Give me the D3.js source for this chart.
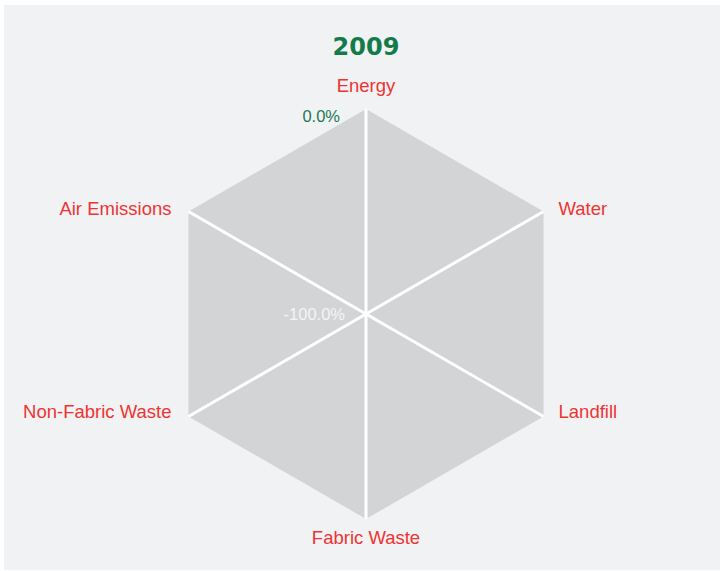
<!DOCTYPE html>
<html>
<head>
<meta charset="utf-8">
<script src="https://cdn.jsdelivr.net/npm/d3@7"></script>
<style>
  html, body { margin: 0; padding: 0; background: #fff; }
  svg { display: block; }
</style>
</head>
<body>
<div id="root"></div>
<script>
// Data
const title = '2009';
const categories = ['Energy', 'Water', 'Landfill', 'Fabric Waste', 'Non-Fabric Waste', 'Air Emissions'];
const values2009 = [0, 0, 0, 0, 0, 0];
const scaleTicks = [-100, 0];

// Chart
const width = 721;
const height = 571;
const cx = 366;
const cy = 314;
const radius = 205;

const svg = d3.select('#root').append('svg').attr('width', width).attr('height', height);

svg.append('rect')
  .attr('x', 4).attr('y', 5)
  .attr('width', 716).attr('height', 565)
  .attr('fill', '#f1f2f4');

svg.append('text')
  .attr('x', cx).attr('y', 55)
  .attr('text-anchor', 'middle')
  .attr('font-family', 'DejaVu Sans')
  .attr('font-weight', 'bold')
  .attr('font-size', 24)
  .attr('fill', '#137a4a')
  .text(title);

const rScale = d3.scaleLinear().domain([-100, 0]).range([0, radius]);
const angle = d3.scaleLinear().domain([0, categories.length]).range([0, 2 * Math.PI]);

const g = svg.append('g').attr('transform', `translate(${cx},${cy})`);

// series area
const line = d3.lineRadial()
  .angle((d, i) => angle(i))
  .radius((d) => rScale(d))
  .curve(d3.curveLinearClosed);

g.append('path')
  .datum(values2009)
  .attr('d', line)
  .attr('fill', '#d3d4d6')
  .attr('stroke', 'none');

// spokes
g.selectAll('line.spoke')
  .data(categories)
  .enter()
  .append('line')
  .attr('class', 'spoke')
  .attr('x1', 0).attr('y1', 0)
  .attr('x2', (d, i) => rScale(0) * Math.sin(angle(i)))
  .attr('y2', (d, i) => -rScale(0) * Math.cos(angle(i)))
  .attr('stroke', '#ffffff')
  .attr('stroke-width', 3);

// category labels
g.selectAll('text.cat')
  .data(categories)
  .enter()
  .append('text')
  .attr('class', 'cat')
  .attr('x', (d, i) => {
    const s = Math.sin(angle(i));
    if (Math.abs(s) < 0.01) return 0;
    return rScale(0) * s + (s > 0 ? 15 : -17);
  })
  .attr('y', (d, i) => {
    const c = Math.cos(angle(i));
    if (Math.abs(c) > 0.99) return -rScale(0) * c - Math.sign(c) * 21 - 2;
    return -rScale(0) * c + (c > 0 ? -3 : -5);
  })
  .attr('dy', '0.35em')
  .attr('text-anchor', (d, i) => {
    const s = Math.sin(angle(i));
    return Math.abs(s) < 0.01 ? 'middle' : s > 0 ? 'start' : 'end';
  })
  .attr('font-family', 'Liberation Sans, Arial, sans-serif')
  .attr('font-size', 18.5)
  .attr('fill', '#ee3432')
  .text((d) => d);

// scale labels
g.selectAll('text.tick')
  .data(scaleTicks)
  .enter()
  .append('text')
  .attr('class', 'tick')
  .attr('x', (d) => (d === 0 ? -26 : -21))
  .attr('y', (d) => -rScale(d) + (d === 0 ? 7 : 0))
  .attr('dy', '0.35em')
  .attr('text-anchor', 'end')
  .attr('font-family', 'Liberation Sans, Arial, sans-serif')
  .attr('font-size', 16.5)
  .attr('fill', (d) => (d === 0 ? '#1b7a52' : '#f4f4f4'))
  .text((d) => d3.format('.1f')(d).replace('\u2212', '-') + '%');
</script>
</body>
</html>
